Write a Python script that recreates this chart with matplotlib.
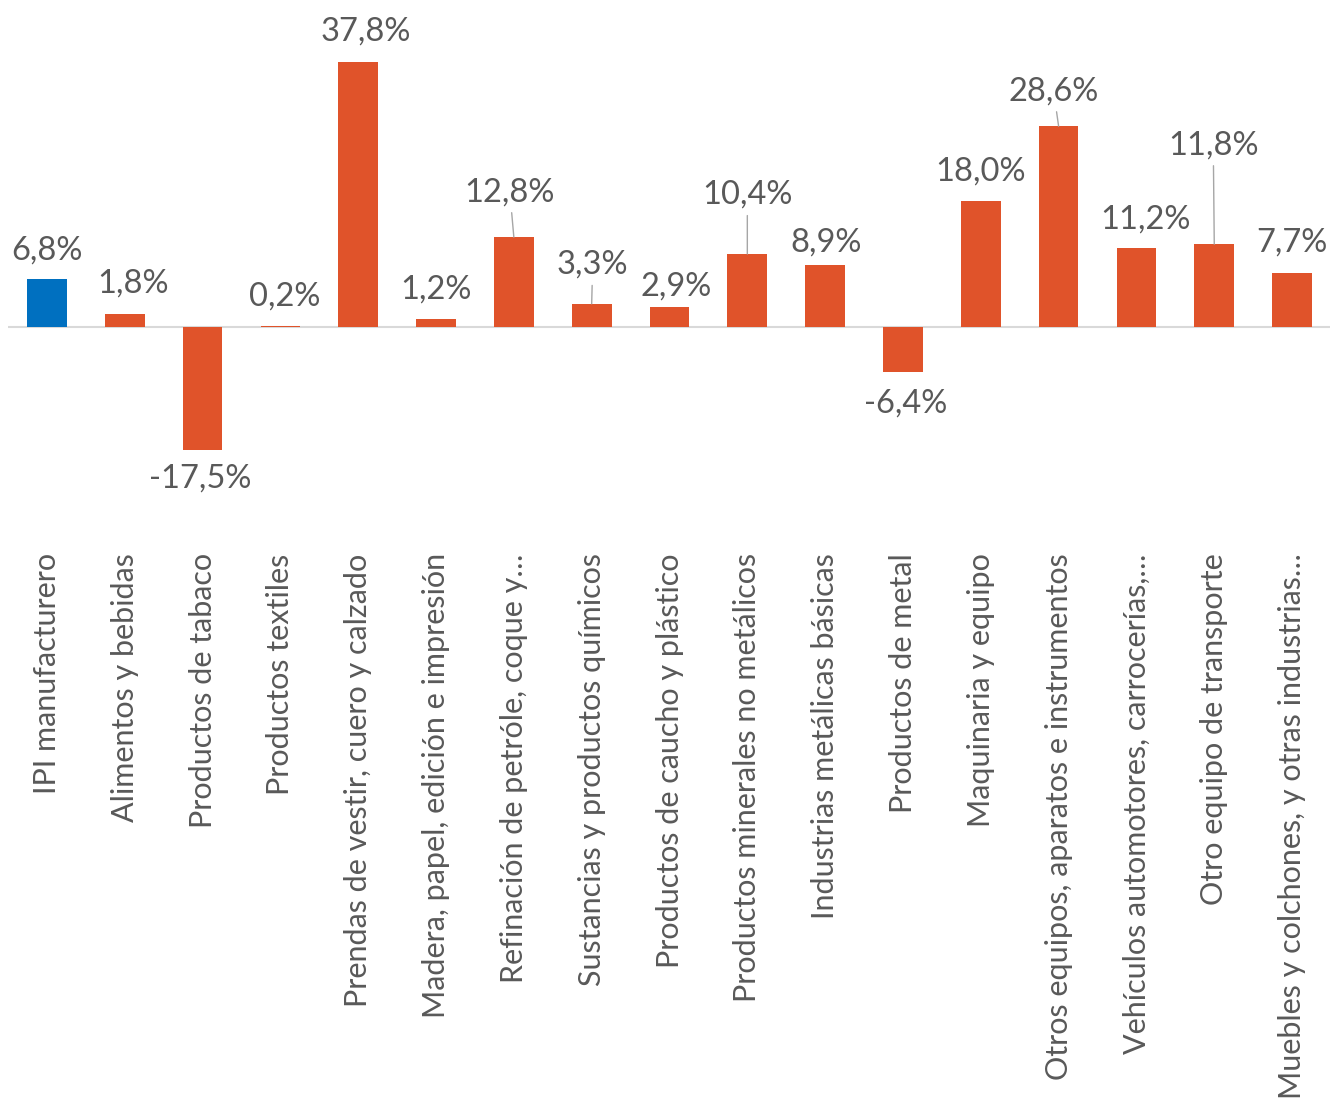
import numpy as np
import matplotlib.pyplot as plt

categorias = [
    'IPI manufacturero',
    'Alimentos y bebidas',
    'Productos de tabaco',
    'Productos textiles',
    'Prendas de vestir, cuero y calzado',
    'Madera, papel, edición e impresión',
    'Refinación de petróle, coque y…',
    'Sustancias y productos químicos',
    'Productos de caucho y plástico',
    'Productos minerales no metálicos',
    'Industrias metálicas básicas',
    'Productos de metal',
    'Maquinaria y equipo',
    'Otros equipos, aparatos e instrumentos',
    'Vehículos automotores, carrocerías,…',
    'Otro equipo de transporte',
    'Muebles y colchones, y otras industrias…',
]
variacion = [6.8, 1.8, -17.5, 0.2, 37.8, 1.2, 12.8, 3.3, 2.9, 10.4,
             8.9, -6.4, 18.0, 28.6, 11.2, 11.8, 7.7]

# desplazamiento de las etiquetas (pixeles) y si llevan linea guia
offsets = [(0, 29), (8, 31), (-2, -29), (4, 29), (8, 30), (0, 29), (-4, 45),
           (1, 39), (7, 20), (0, 59), (1, 22), (3, -32), (0, 29), (-5, 35),
           (9, 29), (-1, 99), (0, 30)]
guia = [False, False, False, False, False, False, True, True, False, True,
        False, False, False, True, False, True, False]

azul = '#0070C0'
naranja = '#E0532A'
gris = '#595959'

fig = plt.figure(figsize=(13.3, 11.04), dpi=100)
ax = fig.add_axes([8 / 1330, 1 - 545 / 1104, 1323 / 1330, 545 / 1104])

x = np.arange(len(categorias))
colores = [azul] + [naranja] * (len(categorias) - 1)
ax.bar(x, variacion, width=0.51, color=colores, zorder=2)
ax.axhline(0, color='#D9D9D9', lw=1.5, zorder=1)

for i, v in enumerate(variacion):
    txt = f'{v:.1f}%'.replace('.', ',')
    dx, dy = offsets[i]
    kw = {}
    if guia[i]:
        kw['arrowprops'] = dict(arrowstyle='-', color='#A6A6A6', lw=1,
                                shrinkA=2, shrinkB=0)
    ax.annotate(txt, xy=(i, v), xytext=(dx, dy), textcoords='offset pixels',
                ha='center', va='center', fontsize=23.5, color=gris,
                family='Lato', **kw)

ax.set_xlim(-0.5, len(categorias) - 0.5)
ax.set_ylim(-31.05, 46.58)
ax.set_xticks(x)
ax.set_xticklabels(categorias, rotation=90, fontsize=22, color=gris,
                   family='Lato')
ax.tick_params(axis='x', length=0, pad=6)
ax.set_yticks([])
for s in ax.spines.values():
    s.set_visible(False)

fig.savefig('out.png', dpi=100)
